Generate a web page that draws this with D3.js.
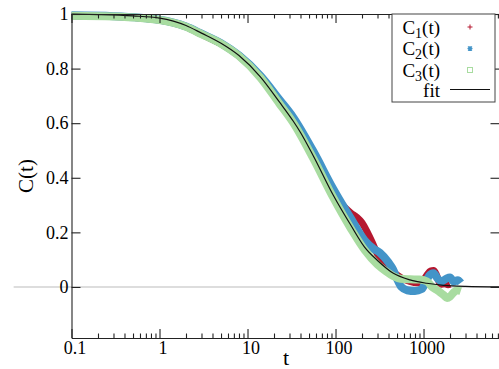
<!DOCTYPE html>
<html>
<head>
<meta charset="utf-8">
<script src="https://cdn.jsdelivr.net/npm/d3@7"></script>
<style>
  body { margin: 0; background: #fff; }
  svg text { font-family: "Liberation Serif", "Times New Roman", "DejaVu Serif", "Liberation Sans", serif; }
</style>
</head>
<body>
<svg id="chart" width="499" height="369"></svg>
<script>
// values
const xMajorTicks = [0.1, 1, 10, 100, 1000];
const xTickLabels = ['0.1', '1', '10', '100', '1000'];
const yMajorTicks = [0, 0.2, 0.4, 0.6, 0.8, 1];
const yTickLabels = ['0', '0.2', '0.4', '0.6', '0.8', '1'];

const fitT = [0.1, 0.2, 0.5, 1, 2, 3, 5, 8, 14, 23, 33, 40, 56, 94, 150, 215, 300, 454, 700, 1085, 1700, 3000, 7300];
const fitC = [1.0, 0.998, 0.993, 0.985, 0.958, 0.93, 0.893, 0.848, 0.77, 0.678, 0.608, 0.566, 0.48, 0.337, 0.225, 0.145, 0.097, 0.05, 0.026, 0.0136, 0.006, 0.002, 0.0];

const c1T = [0.1, 0.3, 1, 2, 3, 5, 8, 14, 23, 33, 56, 94, 120, 150, 175, 200, 230, 260, 300, 350, 400, 450, 550, 700, 850, 1000, 1100, 1200, 1300, 1400, 1500, 1600, 1750, 1900, 2000];
const c1C = [0.994, 0.991, 0.978, 0.953, 0.926, 0.891, 0.847, 0.772, 0.683, 0.617, 0.492, 0.352, 0.30, 0.27, 0.255, 0.235, 0.2, 0.165, 0.12, 0.09, 0.07, 0.055, 0.035, 0.02, 0.015, 0.025, 0.045, 0.058, 0.06, 0.045, 0.02, 0.01, 0.012, 0.008, 0.01];

const c2T = [0.1, 0.3, 1, 2, 3, 5, 8, 14, 23, 33, 56, 94, 150, 215, 270, 320, 400, 450, 500, 560, 650, 800, 950, 1050, 1150, 1300, 1450, 1600, 1800, 2000, 2200, 2450, 2650];
const c2C = [0.995, 0.992, 0.979, 0.954, 0.928, 0.893, 0.848, 0.774, 0.687, 0.622, 0.497, 0.36, 0.25, 0.17, 0.14, 0.125, 0.09, 0.065, 0.03, 0.0, -0.012, -0.015, -0.008, 0.015, 0.04, 0.05, 0.03, 0.02, 0.03, 0.035, 0.02, 0.025, 0.015];

const c3T = [0.1, 0.3, 1, 2, 3, 5, 8, 14, 23, 33, 56, 94, 150, 215, 300, 380, 450, 550, 700, 900, 1100, 1250, 1400, 1550, 1700, 1850, 2000, 2200, 2400, 2650];
const c3C = [0.994, 0.991, 0.978, 0.953, 0.926, 0.891, 0.846, 0.767, 0.672, 0.602, 0.47, 0.328, 0.213, 0.135, 0.082, 0.056, 0.04, 0.03, 0.028, 0.027, 0.02, 0.0, -0.01, -0.02, -0.03, -0.04, -0.035, -0.02, -0.012, -0.015];

const zeroLineT = [0.022, 7300];

const seriesNames = ['C1', 'C2', 'C3'];
const seriesColors = ['#b5172f', '#4394c8', '#a8dca0'];
const serif = '"Liberation Serif", "Times New Roman", "DejaVu Serif", "Liberation Sans", serif';

const svg = d3.select('#chart').attr('font-family', serif);
const x = d3.scaleLog().domain([0.1, 7300]).range([71.5, 499.5]);
const y = d3.scaleLinear().domain([-0.187, 1]).range([338, 14]);

const zip = (ts, cs) => ts.map((t, i) => ({t: t, c: cs[i]}));
const line = d3.line().x(d => x(d.t)).y(d => y(d.c)).curve(d3.curveMonotoneX);

// grey zero reference line
svg.append('path')
  .datum(zeroLineT.map(t => ({t: t, c: 0})))
  .attr('d', d3.line().x(d => x(d.t)).y(d => y(d.c)))
  .attr('stroke', '#d2d2d2').attr('stroke-width', 1.5).attr('fill', 'none');

// dense data drawn as bands, red first, green last
const bands = [zip(c1T, c1C), zip(c2T, c2C), zip(c3T, c3C)];
const bandWidths = [7, 8, 8];
bands.forEach((b, i) => {
  svg.append('path').datum(b)
    .attr('d', line)
    .attr('fill', 'none')
    .attr('stroke', seriesColors[i])
    .attr('stroke-width', bandWidths[i])
    .attr('stroke-linejoin', 'round');
});

// fit
svg.append('path').datum(zip(fitT, fitC))
  .attr('d', line)
  .attr('fill', 'none').attr('stroke', '#111').attr('stroke-width', 1.2);

// axes
const minorTicks = x.ticks().filter(t => xMajorTicks.indexOf(t) < 0);
const axisColor = '#222';
function styleAxis(g) {
  g.selectAll('path, line').attr('stroke', axisColor).attr('stroke-width', 1.1);
  g.attr('font-family', serif).attr('font-size', 18);
  g.selectAll('text').attr('fill', '#000');
}

const xAxis = svg.append('g').attr('transform', 'translate(0,338)')
  .call(d3.axisBottom(x).tickValues(xMajorTicks).tickSizeInner(-9).tickSizeOuter(0).tickPadding(3)
    .tickFormat((d, i) => xTickLabels[i]));
xAxis.selectAll('text').attr('dx', 3);
styleAxis(xAxis);
const xMinor = svg.append('g').attr('transform', 'translate(0,338)')
  .call(d3.axisBottom(x).tickValues(minorTicks).tickSizeInner(-4.5).tickSizeOuter(0).tickFormat(''));
styleAxis(xMinor);

const topAxis = svg.append('g').attr('transform', 'translate(0,14)')
  .call(d3.axisTop(x).tickValues(xMajorTicks).tickSizeInner(-9).tickSizeOuter(0).tickFormat(''));
styleAxis(topAxis);
const topMinor = svg.append('g').attr('transform', 'translate(0,14)')
  .call(d3.axisTop(x).tickValues(minorTicks).tickSizeInner(-4.5).tickSizeOuter(0).tickFormat(''));
styleAxis(topMinor);

const yAxis = svg.append('g').attr('transform', 'translate(71.5,0)')
  .call(d3.axisLeft(y).tickValues(yMajorTicks).tickSizeInner(-9).tickSizeOuter(0).tickPadding(3)
    .tickFormat((d, i) => yTickLabels[i]));
styleAxis(yAxis);
const rightAxis = svg.append('g').attr('transform', 'translate(499.5,0)')
  .call(d3.axisRight(y).tickValues(yMajorTicks).tickSizeInner(-9).tickSizeOuter(0).tickFormat(''));
styleAxis(rightAxis);

// axis titles
svg.append('text').attr('x', 286).attr('y', 365).attr('text-anchor', 'middle')
  .attr('font-size', 22).text('t');
svg.append('text').attr('transform', 'translate(32.5,176) rotate(-90)').attr('text-anchor', 'middle')
  .attr('font-size', 21).text('C(t)');

// legend
const legend = svg.append('g');
legend.append('rect').attr('x', 392).attr('y', 14).attr('width', 103).attr('height', 88)
  .attr('fill', '#fff').attr('stroke', '#444').attr('stroke-width', 1);
const rowY = [33.5, 55, 76.5, 97];
seriesNames.forEach((name, i) => {
  const t = legend.append('text').attr('x', 440).attr('y', rowY[i]).attr('text-anchor', 'end').attr('font-size', 19);
  t.append('tspan').text('C');
  t.append('tspan').attr('font-size', 14).attr('dy', 4).text(String(i + 1));
  t.append('tspan').attr('dy', -4).text('(t)');
});
legend.append('text').attr('x', 440).attr('y', rowY[3]).attr('text-anchor', 'end').attr('font-size', 19).text('fit');

const mx = 470;
legend.append('path').attr('d', `M${mx - 2.5},27H${mx + 2.5}M${mx},24.5V29.5`)
  .attr('stroke', seriesColors[0]).attr('stroke-width', 1);
legend.append('path').attr('d', `M${mx - 2.5},48.5H${mx + 2.5}M${mx},46V51M${mx - 2},46.5L${mx + 2},50.5M${mx - 2},50.5L${mx + 2},46.5`)
  .attr('stroke', seriesColors[1]).attr('stroke-width', 1.2);
legend.append('rect').attr('x', mx - 2.5).attr('y', 67.5).attr('width', 5).attr('height', 5)
  .attr('fill', 'none').attr('stroke', seriesColors[2]).attr('stroke-width', 1);
legend.append('line').attr('x1', 450).attr('x2', 490).attr('y1', 89.5).attr('y2', 89.5)
  .attr('stroke', '#111').attr('stroke-width', 1.2);
</script>
</body>
</html>
